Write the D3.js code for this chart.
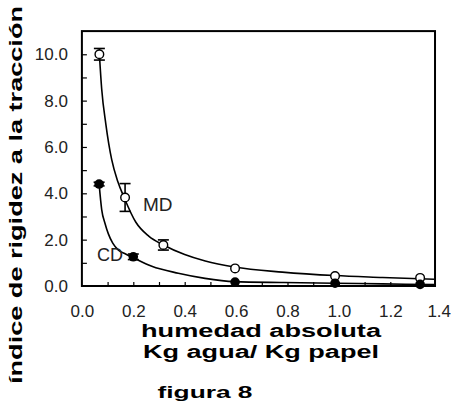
<!DOCTYPE html>
<html>
<head>
<meta charset="utf-8">
<script src="https://cdn.jsdelivr.net/npm/d3@7"></script>
<style>
  body { margin: 0; background: #fff; }
  svg { display: block; }
</style>
</head>
<body>
<div id="chart"></div>
<script>
// --- DATA ---
// MD: open circles, with error bars
const mdX = [0.068, 0.168, 0.317, 0.596, 0.985, 1.316];
const mdY = [10.0, 3.82, 1.77, 0.76, 0.43, 0.35];
const mdErr = [0.25, 0.6, 0.22, 0, 0, 0];
// CD: filled circles
const cdX = [0.067, 0.2, 0.596, 0.985, 1.316];
const cdY = [4.40, 1.26, 0.17, 0.12, 0.07];
const cdErr = [0.08, 0.12, 0, 0, 0];

// fitted curves
const mdCurveX = [0.068, 0.077, 0.093, 0.116, 0.14, 0.165, 0.21, 0.26, 0.317, 0.40, 0.48, 0.593, 0.78, 0.985, 1.17, 1.37];
const mdCurveY = [10.0, 8.5, 7.0, 5.45, 4.5, 3.8, 2.75, 2.15, 1.77, 1.36, 1.08, 0.82, 0.6, 0.45, 0.37, 0.29];
const cdCurveX = [0.067, 0.077, 0.09, 0.103, 0.12, 0.142, 0.17, 0.2, 0.272, 0.375, 0.479, 0.593, 0.785, 0.985, 1.17, 1.37];
const cdCurveY = [4.4, 3.3, 2.7, 2.25, 1.85, 1.55, 1.38, 1.22, 0.85, 0.55, 0.33, 0.19, 0.15, 0.12, 0.09, 0.06];

const xTickLabels = [0.0, 0.2, 0.4, 0.6, 0.8, 1.0, 1.2, 1.4];
const xMinorTicks = [0.1, 0.2, 0.3, 0.4, 0.5, 0.6, 0.7, 0.8, 0.9, 1.0, 1.1, 1.2, 1.3];
const yTickLabels = [0, 2, 4, 6, 8, 10];
const yAllTicks = [1, 2, 3, 4, 5, 6, 7, 8, 9, 10];
const xMax = 1.374; // right edge of the frame

const yTitle = "índice de rigidez a la tracción";
const xTitle1 = "humedad absoluta";
const xTitle2 = "Kg agua/ Kg papel";
const caption = "figura 8";

// --- SETUP ---
const width = 451, height = 407;
const svg = d3.select("#chart").append("svg")
    .attr("width", width).attr("height", height)
    .style("background", "#fff");

const xScale = d3.scaleLinear().domain([0, 1.4]).range([81.9, 441.7]);
const yScale = d3.scaleLinear().domain([0, 11]).range([286, 31.1]);

const tickFont = "'Liberation Sans', Arial, sans-serif";

// frame
svg.append("rect")
    .attr("x", xScale(0)).attr("y", yScale(11))
    .attr("width", xScale(xMax) - xScale(0))
    .attr("height", yScale(0) - yScale(11))
    .attr("fill", "none").attr("stroke", "#000").attr("stroke-width", 2);

// y axis: labels + inward ticks
const yAxisG = svg.append("g")
    .attr("transform", `translate(${xScale(0)},0)`)
    .call(d3.axisLeft(yScale).tickValues(yTickLabels).tickFormat(d3.format(".1f"))
        .tickSize(0).tickPadding(14));
yAxisG.select(".domain").remove();
yAxisG.selectAll("text").style("font-family", tickFont).style("font-size", "17px").attr("fill", "#222");

const yTickG = svg.append("g")
    .attr("transform", `translate(${xScale(0)},0)`)
    .call(d3.axisRight(yScale).tickValues(yAllTicks).tickSize(5).tickFormat(""));
yTickG.select(".domain").remove();
yTickG.selectAll("line").attr("stroke", "#000").attr("stroke-width", 1.2);

// x axis: labels + inward ticks
const xAxisG = svg.append("g")
    .attr("transform", `translate(0,${yScale(0)})`)
    .call(d3.axisBottom(xScale).tickValues(xTickLabels).tickFormat(d3.format(".1f"))
        .tickSize(0).tickPadding(19));
xAxisG.select(".domain").remove();
xAxisG.selectAll("text").style("font-family", tickFont).style("font-size", "17px").attr("fill", "#222");
// last label sits at the page edge; nudge it in so it stays whole
xAxisG.selectAll("text").filter(d => d === 1.4).attr("dx", -3);

const xTickG = svg.append("g")
    .attr("transform", `translate(0,${yScale(0)})`)
    .call(d3.axisTop(xScale).tickValues(xMinorTicks).tickSize(4).tickFormat(""));
xTickG.select(".domain").remove();
xTickG.selectAll("line").attr("stroke", "#000").attr("stroke-width", 1.2);

// curves
const line = d3.line()
    .x(d => xScale(d[0]))
    .y(d => yScale(d[1]))
    .curve(d3.curveMonotoneX);

[[mdCurveX, mdCurveY], [cdCurveX, cdCurveY]].forEach(([xs, ys]) => {
    svg.append("path")
        .datum(xs.map((x, i) => [x, ys[i]]))
        .attr("fill", "none").attr("stroke", "#000").attr("stroke-width", 1.6)
        .attr("d", line);
});

// error bars
function drawErrors(xs, ys, errs) {
    const g = svg.append("g").attr("stroke", "#000").attr("stroke-width", 1.6);
    xs.forEach((x, i) => {
        if (!errs[i]) return;
        const cx = xScale(x);
        const y1 = yScale(ys[i] - errs[i]), y2 = yScale(ys[i] + errs[i]);
        g.append("line").attr("x1", cx).attr("x2", cx).attr("y1", y1).attr("y2", y2);
        g.append("line").attr("x1", cx - 5.5).attr("x2", cx + 5.5).attr("y1", y1).attr("y2", y1);
        g.append("line").attr("x1", cx - 5.5).attr("x2", cx + 5.5).attr("y1", y2).attr("y2", y2);
    });
}
drawErrors(mdX, mdY, mdErr);
drawErrors(cdX, cdY, cdErr);

// points
svg.append("g").selectAll("circle")
    .data(mdX.map((x, i) => [x, mdY[i]])).enter().append("circle")
    .attr("cx", d => xScale(d[0])).attr("cy", d => yScale(d[1]))
    .attr("r", 4.3).attr("fill", "#fff").attr("stroke", "#000").attr("stroke-width", 1.4);

svg.append("g").selectAll("circle")
    .data(cdX.map((x, i) => [x, cdY[i]])).enter().append("circle")
    .attr("cx", d => xScale(d[0])).attr("cy", d => yScale(d[1]))
    .attr("r", 4.8).attr("fill", "#000");

// series labels
svg.append("text").attr("x", 143).attr("y", 211).text("MD")
    .style("font-family", tickFont).style("font-size", "19px").attr("fill", "#222");
svg.append("text").attr("x", 97).attr("y", 261).text("CD")
    .style("font-family", tickFont).style("font-size", "18px").attr("fill", "#222");

// titles (wide bold lettering in the original)
function boldText(txt, x, y, size, len, rotate) {
    const t = svg.append("text")
        .attr("text-anchor", "middle")
        .attr("textLength", len).attr("lengthAdjust", "spacingAndGlyphs")
        .style("font-family", tickFont).style("font-weight", "bold")
        .style("font-size", size + "px").attr("fill", "#000")
        .text(txt);
    if (rotate) t.attr("transform", `translate(${x},${y}) rotate(-90)`);
    else t.attr("x", x).attr("y", y);
}
boldText(yTitle, 22, 195, 19, 378, true);
boldText(xTitle1, 261, 337, 18, 240);
boldText(xTitle2, 261, 358, 18, 236);
boldText(caption, 205, 398, 16, 95);
</script>
</body>
</html>
